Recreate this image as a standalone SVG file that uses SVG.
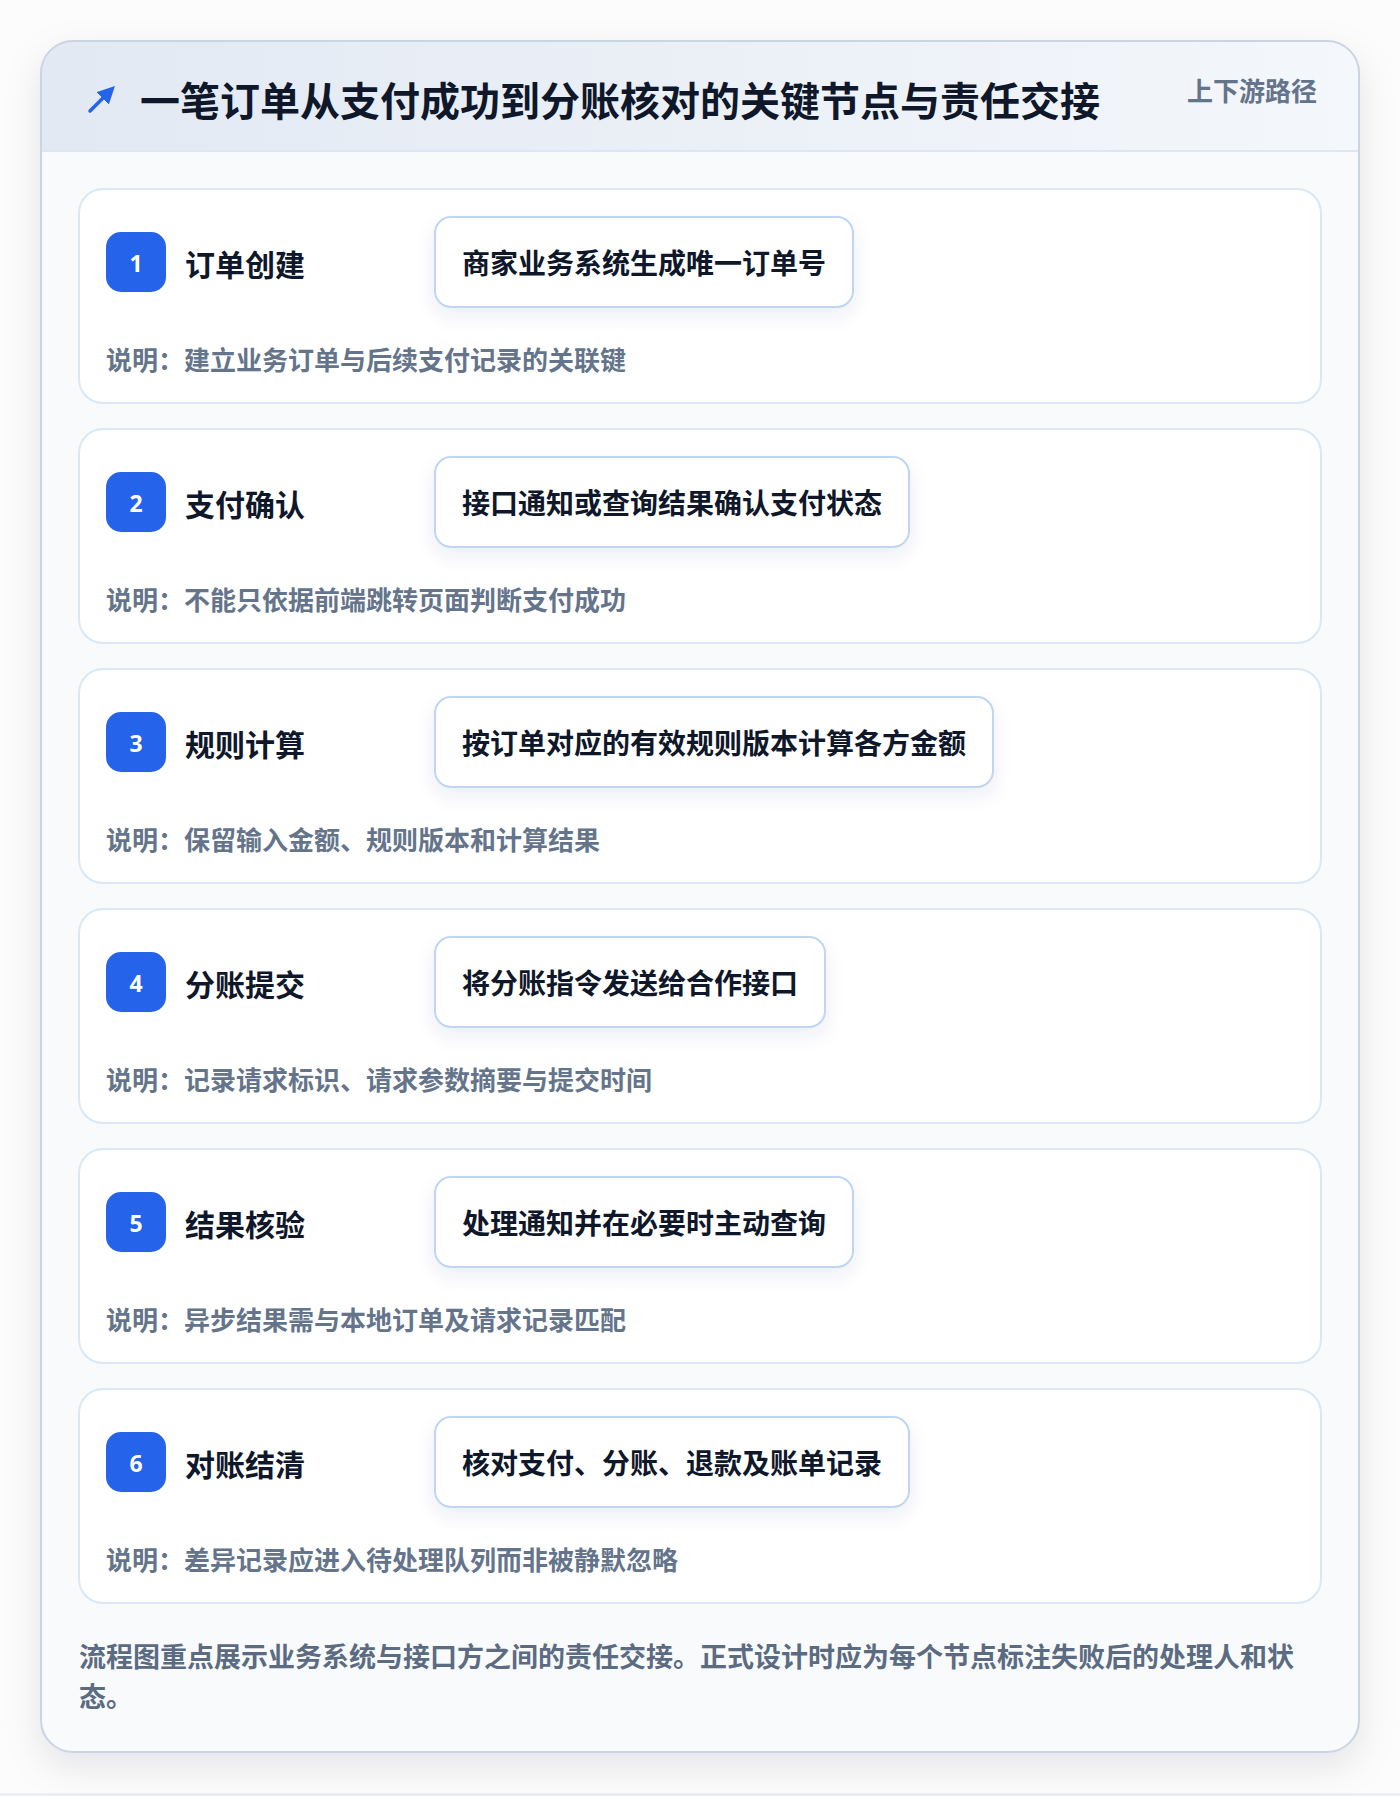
<svg xmlns="http://www.w3.org/2000/svg" width="1400" height="1796" viewBox="0 0 1400 1796">
<defs>
<style>
text{font-family:"Noto Sans CJK SC","Noto Sans",sans-serif;font-weight:700}
.node{fill:#ffffff;stroke:#dbe7f6;stroke-width:2}
.badge{fill:#2563eb}
.num{fill:#ffffff;font-size:23px;font-family:"Noto Sans","Noto Sans CJK SC",sans-serif}
.ttl{fill:#0f172a;font-size:30px}
.inner{fill:#ffffff;stroke:#bfd5f2;stroke-width:2}
.itxt{fill:#0f172a;font-size:28px}
.desc{fill:#64748b;font-size:26px}
.foot{fill:#5b6b82;font-size:27px}
</style>
<linearGradient id="hdr" x1="0" y1="0" x2="1" y2="0">
<stop offset="0" stop-color="#e2e9f3"/>
<stop offset="1" stop-color="#f4f7fb"/>
</linearGradient>
<filter id="cardsh" x="-10%" y="-10%" width="120%" height="120%">
<feDropShadow dx="0" dy="14" stdDeviation="18" flood-color="#0f172a" flood-opacity="0.10"/>
</filter>
<filter id="boxsh" x="-20%" y="-40%" width="140%" height="200%">
<feDropShadow dx="0" dy="8" stdDeviation="9" flood-color="#1e3a8a" flood-opacity="0.08"/>
</filter>
<clipPath id="cardclip"><rect x="41" y="41" width="1318" height="1711" rx="32"/></clipPath>
<marker id="ah" viewBox="0 0 10 10" refX="6" refY="5" markerWidth="5" markerHeight="5" orient="auto"><path d="M0,0 L10,5 L0,10 z" fill="#2563eb"/></marker>
</defs>
<rect width="1400" height="1796" fill="#fcfcfd"/>
<rect x="0" y="1793" width="1400" height="3" fill="#eceef2"/>
<g id="card">
<rect x="41" y="41" width="1318" height="1711" rx="32" fill="#f8fafc" filter="url(#cardsh)"/>
<g clip-path="url(#cardclip)">
<rect x="41" y="41" width="1318" height="111" fill="url(#hdr)"/>
<line x1="41" y1="151" x2="1359" y2="151" stroke="#dbe7f6" stroke-width="2"/>
</g>
<rect x="41" y="41" width="1318" height="1711" rx="32" fill="none" stroke="#cbd5e1" stroke-width="2"/>
</g>
<g id="header">
<line x1="90" y1="111" x2="110" y2="91" stroke="#2563eb" stroke-width="3.5" stroke-linecap="round" marker-end="url(#ah)"/>
<text x="140" y="99" font-size="40" fill="#0f172a" dominant-baseline="central">一笔订单从支付成功到分账核对的关键节点与责任交接</text>
<text x="1317" y="89" font-size="26" fill="#64748b" text-anchor="end" dominant-baseline="central">上下游路径</text>
</g>
<g id="node1">
<rect class="node" x="79" y="189" width="1242" height="214" rx="24"/>
<rect class="badge" x="106" y="232" width="60" height="60" rx="15"/>
<text class="num" x="136" y="263" text-anchor="middle" dominant-baseline="central">1</text>
<text class="ttl" x="185" y="263" dominant-baseline="central">订单创建</text>
<rect class="inner" x="435" y="217" width="418" height="90" rx="16" filter="url(#boxsh)"/>
<text class="itxt" x="644" y="262" text-anchor="middle" dominant-baseline="central">商家业务系统生成唯一订单号</text>
<text class="desc" x="106" y="358" dominant-baseline="central">说明：建立业务订单与后续支付记录的关联键</text>
</g>
<g id="node2">
<rect class="node" x="79" y="429" width="1242" height="214" rx="24"/>
<rect class="badge" x="106" y="472" width="60" height="60" rx="15"/>
<text class="num" x="136" y="503" text-anchor="middle" dominant-baseline="central">2</text>
<text class="ttl" x="185" y="503" dominant-baseline="central">支付确认</text>
<rect class="inner" x="435" y="457" width="474" height="90" rx="16" filter="url(#boxsh)"/>
<text class="itxt" x="672" y="502" text-anchor="middle" dominant-baseline="central">接口通知或查询结果确认支付状态</text>
<text class="desc" x="106" y="598" dominant-baseline="central">说明：不能只依据前端跳转页面判断支付成功</text>
</g>
<g id="node3">
<rect class="node" x="79" y="669" width="1242" height="214" rx="24"/>
<rect class="badge" x="106" y="712" width="60" height="60" rx="15"/>
<text class="num" x="136" y="743" text-anchor="middle" dominant-baseline="central">3</text>
<text class="ttl" x="185" y="743" dominant-baseline="central">规则计算</text>
<rect class="inner" x="435" y="697" width="558" height="90" rx="16" filter="url(#boxsh)"/>
<text class="itxt" x="714" y="742" text-anchor="middle" dominant-baseline="central">按订单对应的有效规则版本计算各方金额</text>
<text class="desc" x="106" y="838" dominant-baseline="central">说明：保留输入金额、规则版本和计算结果</text>
</g>
<g id="node4">
<rect class="node" x="79" y="909" width="1242" height="214" rx="24"/>
<rect class="badge" x="106" y="952" width="60" height="60" rx="15"/>
<text class="num" x="136" y="983" text-anchor="middle" dominant-baseline="central">4</text>
<text class="ttl" x="185" y="983" dominant-baseline="central">分账提交</text>
<rect class="inner" x="435" y="937" width="390" height="90" rx="16" filter="url(#boxsh)"/>
<text class="itxt" x="630" y="982" text-anchor="middle" dominant-baseline="central">将分账指令发送给合作接口</text>
<text class="desc" x="106" y="1078" dominant-baseline="central">说明：记录请求标识、请求参数摘要与提交时间</text>
</g>
<g id="node5">
<rect class="node" x="79" y="1149" width="1242" height="214" rx="24"/>
<rect class="badge" x="106" y="1192" width="60" height="60" rx="15"/>
<text class="num" x="136" y="1223" text-anchor="middle" dominant-baseline="central">5</text>
<text class="ttl" x="185" y="1223" dominant-baseline="central">结果核验</text>
<rect class="inner" x="435" y="1177" width="418" height="90" rx="16" filter="url(#boxsh)"/>
<text class="itxt" x="644" y="1222" text-anchor="middle" dominant-baseline="central">处理通知并在必要时主动查询</text>
<text class="desc" x="106" y="1318" dominant-baseline="central">说明：异步结果需与本地订单及请求记录匹配</text>
</g>
<g id="node6">
<rect class="node" x="79" y="1389" width="1242" height="214" rx="24"/>
<rect class="badge" x="106" y="1432" width="60" height="60" rx="15"/>
<text class="num" x="136" y="1463" text-anchor="middle" dominant-baseline="central">6</text>
<text class="ttl" x="185" y="1463" dominant-baseline="central">对账结清</text>
<rect class="inner" x="435" y="1417" width="474" height="90" rx="16" filter="url(#boxsh)"/>
<text class="itxt" x="672" y="1462" text-anchor="middle" dominant-baseline="central">核对支付、分账、退款及账单记录</text>
<text class="desc" x="106" y="1558" dominant-baseline="central">说明：差异记录应进入待处理队列而非被静默忽略</text>
</g>
<g id="connectors"></g>
<g id="footer">
<text class="foot" x="79" y="1655" dominant-baseline="central">流程图重点展示业务系统与接口方之间的责任交接。正式设计时应为每个节点标注失败后的处理人和状</text>
<text class="foot" x="79" y="1695" dominant-baseline="central">态。</text>
</g>
</svg>
